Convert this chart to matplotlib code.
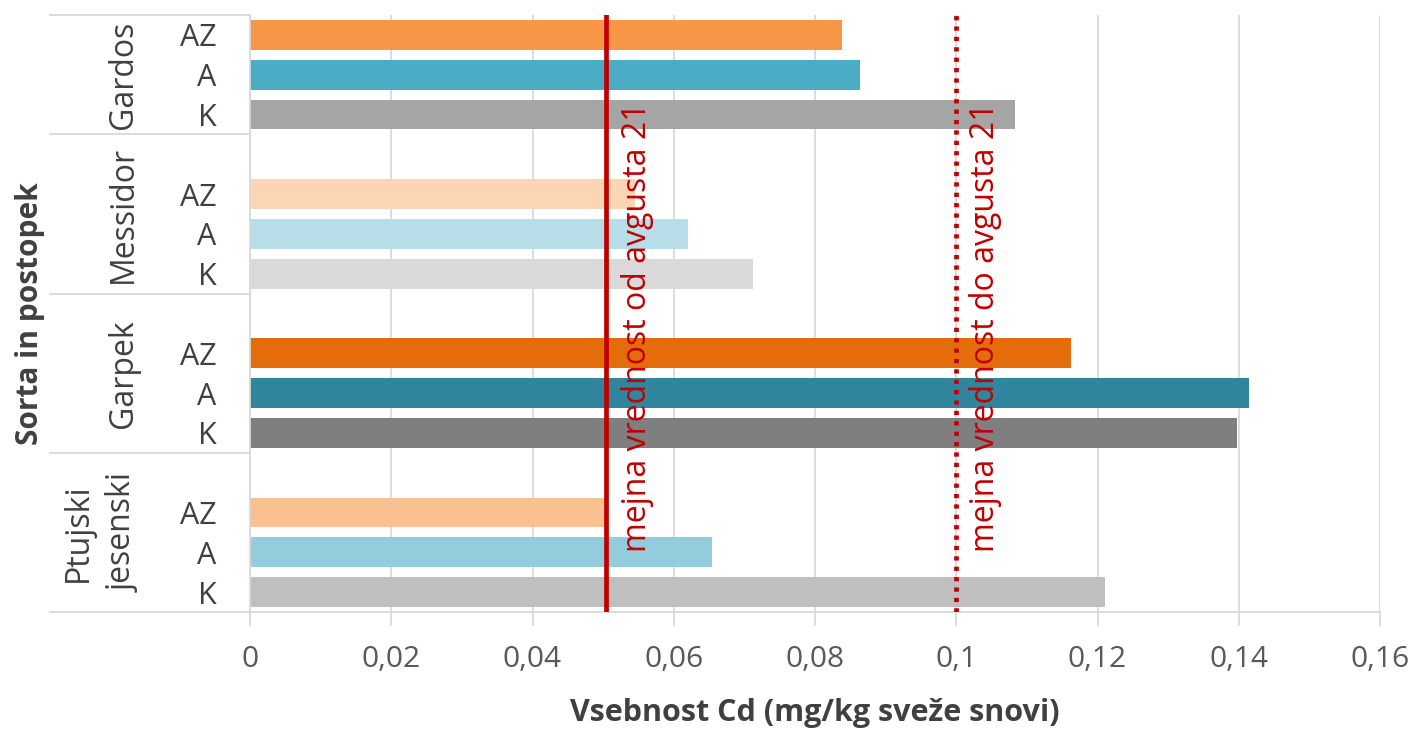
import matplotlib
matplotlib.use("Agg")
import matplotlib.pyplot as plt
from matplotlib.transforms import blended_transform_factory

plt.rcParams['font.family'] = ['Open Sans', 'DejaVu Sans']

groups = ["Gardos", "Messidor", "Garpek", "Ptujski\njesenski"]
treatments = ["AZ", "A", "K"]
gardos = [0.0838, 0.0864, 0.1083]
messidor = [0.0545, 0.0620, 0.0712]
garpek = [0.1162, 0.1414, 0.1398]
ptujski = [0.0505, 0.0654, 0.1211]
values = [gardos, messidor, garpek, ptujski]

colors = [
    ["#F79646", "#4BACC6", "#A5A5A5"],
    ["#FCD5B5", "#B7DEE8", "#D9D9D9"],
    ["#E46C0A", "#31859C", "#7F7F7F"],
    ["#FAC090", "#93CDDD", "#BFBFBF"],
]

limit_new = 0.0504
limit_old = 0.1
limit_new_label = "mejna vrednost od avgusta 21"
limit_old_label = "mejna vrednost do avgusta 21"
xticks = [0, 0.02, 0.04, 0.06, 0.08, 0.1, 0.12, 0.14, 0.16]
xticklabels = ["0", "0,02", "0,04", "0,06", "0,08", "0,1", "0,12", "0,14", "0,16"]

W, H = 1414, 731
fig = plt.figure(figsize=(W / 100, H / 100), dpi=100)
L, R, T, B = 250, 1380, 15, 612
ax = fig.add_axes([L / W, (H - B) / H, (R - L) / W, (B - T) / H])

grid_c = "#D9D9D9"
txt_c = "#595959"
cat_c = "#404040"
red = "#C00000"

ypos, ylabels = [], []
for g, vals in enumerate(values):
    for t, v in enumerate(vals):
        y = 4 * g + t
        ax.barh(y, v, height=0.75, color=colors[g][t], zorder=2)
        ypos.append(y)
        ylabels.append(treatments[t])

ax.set_xlim(0, 0.16)
ax.set_ylim(14.5, -0.5)
ax.set_xticks(xticks)
ax.set_xticklabels(xticklabels)
ax.set_yticks(ypos)
ax.set_yticklabels(ylabels)

ax.grid(axis="x", color=grid_c, lw=1.3, zorder=0)
ax.set_axisbelow(True)
for s in ["top", "right"]:
    ax.spines[s].set_visible(False)
for s in ["left", "bottom"]:
    ax.spines[s].set_color(grid_c)
    ax.spines[s].set_linewidth(1.3)

ax.tick_params(axis="x", length=10, width=1.3, color=grid_c, pad=14,
               labelsize=21.5, labelcolor=txt_c)
ax.tick_params(axis="y", length=0, pad=24, labelsize=22, labelcolor=cat_c)

# limit lines
ax.axvline(limit_new, color=red, lw=3.4, zorder=4)
ax.axvline(limit_old, color=red, lw=3.4, ls=(0, (0.9, 1.3)), zorder=4)
ax.text(limit_new + 0.0044, 13.0, limit_new_label, rotation=90, ha="center",
        va="bottom", color=red, fontsize=23, zorder=5)
ax.text(limit_old + 0.0042, 13.0, limit_old_label, rotation=90, ha="center",
        va="bottom", color=red, fontsize=23, zorder=5)

# multi-level category axis
trans = blended_transform_factory(ax.transAxes, ax.transData)
x0 = (50 - L) / (R - L)
seps = [-0.5] + [4 * g + 2.5 for g in range(len(groups))]
for s in seps:
    ax.plot([x0, 0], [s, s], color=grid_c, lw=1.3, transform=trans,
            clip_on=False, zorder=1)

for g, name in enumerate(groups):
    top = -0.5 if g == 0 else 4 * g - 1.5
    bot = 4 * g + 2.5
    xc = (101 - L) / (R - L) if "\n" in name else (123 - L) / (R - L)
    ax.text(xc, (top + bot) / 2, name, rotation=90, ha="center", va="center",
            multialignment="center", fontsize=23, color=cat_c,
            transform=trans, linespacing=1.45)

ax.text((30 - L) / (R - L), 0.5, "Sorta in postopek", rotation=90,
        ha="center", va="center", fontsize=21.5, fontweight="bold",
        color=cat_c, transform=ax.transAxes)
ax.set_xlabel("Vsebnost Cd (mg/kg sveže snovi)", fontsize=22,
              fontweight="bold", color=cat_c, labelpad=17)

fig.savefig("out.png", dpi=100, facecolor="white")
